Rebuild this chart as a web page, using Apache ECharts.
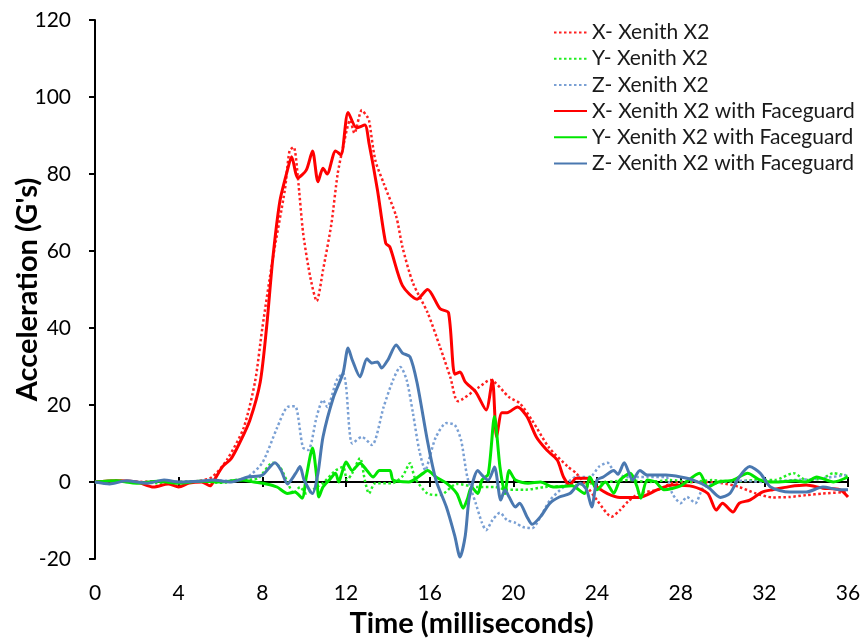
<!DOCTYPE html>
<html>
<head>
<meta charset="utf-8">
<script src="https://cdn.jsdelivr.net/npm/echarts@6/dist/echarts.min.js"></script>
<style>
html,body{margin:0;padding:0;background:#fff;}
#chart{width:862px;height:641px;}
</style>
</head>
<body>
<div id="chart"></div>
<script>
// Tick values
const xTicks = [0,4,8,12,16,20,24,28,32,36];
const yTicks = [-20,0,20,40,60,80,100,120];

const seriesNames = [
  "X- Xenith X2",
  "Y- Xenith X2",
  "Z- Xenith X2",
  "X- Xenith X2 with Faceguard",
  "Y- Xenith X2 with Faceguard",
  "Z- Xenith X2 with Faceguard"
];

// [time ms, acceleration G]
const xBase = [[0,0],[1,0.2],[2,0],[3,0.2],[4,0],[5,0.3],[5.6,1.3],[6.3,5.7],[7.1,14],[7.65,26],[8.0,40],[8.5,58],[9.08,76],[9.3,86],[9.5,87],[9.7,79],[9.95,64.7],[10.3,53],[10.6,47],[10.9,55],[11.3,67],[11.6,80],[11.86,87],[12.2,94],[12.4,90.6],[12.76,96.6],[13.0,95],[13.1,94],[13.4,83.6],[13.8,77.6],[14.4,69],[14.7,61],[15.2,51.7],[15.9,44],[16.5,35],[17.0,27],[17.35,21],[18.3,24.4],[18.9,26.5],[19.8,22],[20.3,20.5],[20.9,16],[21.7,9],[22.6,4],[23.0,2.3],[23.5,-1],[24,-4.7],[24.7,-9],[25.1,-7.3],[25.5,-5],[26,-3],[26.9,-2],[27.6,-0.3],[28.4,0],[29.3,0],[30,-0.3],[30.8,-1.3],[31.6,-3],[32.4,-4],[33.2,-3.9],[34,-3.4],[34.8,-3],[35.9,-2.6]];

const yBase = [[0,0],[1,0.3],[2,0],[3,-0.3],[4,0],[5,0.2],[6,-0.2],[7,0.5],[7.8,1],[8.5,5],[8.84,3.9],[9.2,0],[9.5,-3],[9.8,-1.3],[10.1,-3],[10.6,-1.3],[10.9,-0.3],[11.5,3],[11.86,3.9],[12.05,0.5],[12.3,2.3],[12.67,6.2],[12.9,0.5],[13.1,-3],[13.4,-0.3],[14.2,-0.3],[14.7,1.5],[15.06,4.9],[15.3,1],[15.9,-3],[16.5,-3.4],[17.3,-0.5],[18.3,-1.3],[19.1,-1.3],[19.7,-2],[20.6,-2],[21.5,-1.3],[22.5,-1],[23.5,-0.5],[24.5,0],[25.5,0.5],[26.5,0],[27.5,0.5],[28.5,0],[29.5,0.5],[30.5,0],[31.5,0.5],[32.5,0.5],[33.4,2.3],[34,0.5],[34.8,1],[35.3,2.3],[36,1.5]];

const zBase = [[0,0],[1,0.2],[2,-0.2],[3,0.2],[4,0],[5,0.2],[6,0.3],[6.7,0.5],[7.3,1.3],[8.0,5],[8.7,14],[9.2,19.5],[9.56,19.7],[9.94,9],[10.2,8.3],[10.6,17],[10.9,21.3],[11.1,19.5],[11.56,26.5],[11.86,28.3],[12.0,25],[12.3,10],[12.76,11.7],[13.24,9.6],[13.8,19.5],[14.25,26.5],[14.6,29.9],[14.9,26.5],[15.2,17.9],[15.5,8.3],[15.8,3],[16.0,6.5],[16.3,11.7],[16.8,15.3],[17.2,14.8],[17.5,10.9],[17.8,1.3],[18.2,-5.5],[18.5,-10.6],[18.7,-12.5],[19.0,-9.9],[19.36,-8],[19.7,-9.9],[20.1,-10.6],[20.46,-11.7],[20.9,-12],[21.3,-9],[21.75,-4.7],[22.4,-1.3],[23,1.3],[23.66,1.3],[24.1,4],[24.5,5],[24.8,3],[25.4,1.3],[26.4,1.3],[27.3,1.3],[27.6,-3],[28,-5.5],[28.3,-3.9],[28.7,-5.5],[29.1,-1.3],[30,0],[31,0.3],[32,0],[33.4,0.5],[34.5,0.8],[35.9,1.8]];

const xFace = [[0,0],[1,0.3],[2,0],[2.8,-1.3],[3.5,-0.5],[4,-1.3],[4.5,-0.3],[5.1,0],[5.5,-1],[5.7,0.5],[6.1,4],[6.5,6],[6.9,10],[7.4,16],[7.9,26],[8.2,40],[8.5,58],[8.84,73],[9.2,81],[9.4,84.5],[9.7,79],[10.1,81],[10.4,86],[10.66,78],[10.9,81.5],[11.1,80],[11.5,86],[11.76,85],[12.1,96],[12.5,92],[12.9,92.7],[13.1,88],[13.5,76],[13.9,62],[14.1,61],[14.7,51],[15.4,47.5],[15.9,50],[16.5,45],[16.9,44],[17.2,28],[17.45,28.6],[17.7,26],[18.2,23.4],[18.7,18.7],[19.0,26.5],[19.2,11.7],[19.45,18],[19.7,18],[20.2,19.5],[20.65,17],[21.1,11.7],[21.6,8.3],[22.1,5.7],[22.4,1.3],[22.7,-0.8],[23.0,1],[23.5,1],[24,-1.3],[24.5,-3],[25.1,-4],[26,-4],[26.9,-2],[27.6,-0.8],[28.6,-1.2],[29.3,-3],[29.7,-7.3],[30.0,-5.5],[30.5,-7.8],[30.8,-5.5],[31.3,-4.7],[31.9,-2.6],[32.4,-2],[33.2,-1.2],[34,-0.8],[34.8,-1.6],[35.6,-2],[36,-3.9]];

const yFace = [[0,0],[1,0.3],[2,-0.3],[3,0.2],[4,-0.3],[5,0.2],[6,0],[7,0.5],[7.6,0],[8.2,-0.5],[8.7,-1.3],[9.2,-3],[9.56,-2.6],[9.9,-4.2],[10.1,1.3],[10.4,8.8],[10.6,1.3],[10.7,-3.9],[10.9,-1.3],[11.2,0.5],[11.5,2.3],[11.65,0],[11.8,2.3],[12.0,5.2],[12.3,3],[12.67,4.9],[13.0,3],[13.3,1.3],[13.6,3],[14.1,3],[14.25,0.5],[15,0],[15.7,2.3],[15.9,3],[16.3,1.3],[16.8,-0.3],[17.3,-3],[17.6,-6.8],[17.8,-4.5],[18.0,-1.3],[18.3,-3],[18.5,0.5],[18.8,2],[19.1,17],[19.36,3.9],[19.6,-3],[19.8,3],[20.1,0.5],[20.7,-0.3],[21.3,0],[21.9,-1.3],[22.8,-1],[23.4,-3],[23.66,1.3],[24,-2],[24.4,0],[24.8,-2.9],[25.1,0.5],[25.6,2.3],[25.9,-1],[26.1,-4.2],[26.4,0.5],[26.8,0],[27.2,-2],[28,-1],[28.9,2.3],[29.3,-1.3],[29.8,0],[30.5,0.5],[31.2,2.3],[31.8,0.5],[32.5,0],[33.5,0.3],[34,0],[34.5,1.3],[35.3,0],[36,1.3]];

const zFace = [[0,0],[0.7,-0.5],[1.5,0.3],[2.5,-0.3],[3.3,0.5],[4,0],[5,0.2],[5.6,0.5],[6.5,0],[7.3,1.3],[8.0,1.8],[8.6,5],[8.9,3],[9.2,-0.5],[9.6,2.3],[9.8,4],[10.0,0.5],[10.4,-3],[10.66,2.3],[10.9,11.7],[11.4,22],[11.86,28.3],[12.1,34.8],[12.3,31.7],[12.67,27.3],[13.0,32],[13.24,30.9],[13.5,31.2],[13.7,29.6],[14.0,31.7],[14.4,35.6],[14.7,33.5],[15.06,32.5],[15.4,25.7],[15.9,10.5],[16.3,0.5],[16.8,-6.5],[17.2,-14],[17.45,-19.5],[17.7,-14],[17.9,-3.9],[18.3,3],[18.5,1.8],[18.8,0.5],[19.1,3.9],[19.4,-4.7],[19.6,-2],[19.8,-3.9],[20.1,-6.5],[20.3,-5.5],[20.65,-9],[20.9,-11],[21.3,-9],[21.75,-5.5],[22.2,-3.9],[22.7,-3],[23.2,-0.3],[23.5,-2],[23.75,-6.5],[24,0.5],[24.3,1.3],[24.8,3],[25.0,2],[25.3,5],[25.7,0.5],[26.05,3],[26.4,1.8],[27.3,1.8],[28,1.3],[28.6,0.5],[29.3,-1.3],[29.9,-4],[30.35,-3],[30.8,1.3],[31.3,4],[31.8,2.3],[32.3,-1.3],[33.2,-2.6],[34,-2.6],[34.8,-1.3],[35.6,-2],[36,-2]];

const FONT = 'Lato, "Open Sans", sans-serif';
const chart = echarts.init(document.getElementById('chart'), null, {renderer:'canvas'});

function mkSeries(name, data, color, dotted) {
  return {
    name: name, type: 'line', data: data, symbol: 'none', smooth: 0.25,
    xAxisIndex: 0, yAxisIndex: 0,
    lineStyle: dotted
      ? {color: color, width: 2.5, type: [2.5, 2.5]}
      : {color: color, width: 3},
    itemStyle: {color: color},
    emphasis: {disabled: true},
    z: dotted ? 2 : 3
  };
}

const xAxisBase = {type:'value', min: xTicks[0], max: xTicks[xTicks.length-1], interval: 4, splitLine:{show:false}};

const option = {
  animation: false,
  backgroundColor: '#fff',
  textStyle: {fontFamily: FONT},
  grid: {left: 95, right: 14, top: 20, bottom: 82, containLabel: false, outerBoundsMode: 'none'},
  legend: {
    orient: 'vertical', left: 548, top: 17,
    itemWidth: 33, itemHeight: 14, itemGap: 5.2,
    itemStyle: {opacity: 0},
    textStyle: {fontFamily: FONT, fontSize: 21, color: '#1a1a1a'},
    data: seriesNames
  },
  xAxis: [
    Object.assign({}, xAxisBase, {
      position: 'bottom',
      axisLine: {show: false, onZero: false},
      axisTick: {show: false},
      axisLabel: {fontFamily: FONT, fontSize: 21, color: '#000', margin: 24},
      name: 'Time (milliseconds)', nameLocation: 'middle', nameGap: 49,
      nameTextStyle: {fontFamily: FONT, fontSize: 29, fontWeight: 'bold', color: '#000'}
    }),
    Object.assign({}, xAxisBase, {
      position: 'bottom',
      axisLine: {show: true, onZero: true, onZeroAxisIndex: 0, lineStyle: {color: '#000', width: 2}},
      axisTick: {show: true, inside: false, length: 5, lineStyle: {color: '#000', width: 2}},
      axisLabel: {show: false}
    }),
    Object.assign({}, xAxisBase, {
      position: 'bottom',
      axisLine: {show: false, onZero: true, onZeroAxisIndex: 0},
      axisTick: {show: true, inside: true, length: 5, lineStyle: {color: '#000', width: 2}},
      axisLabel: {show: false}
    })
  ],
  yAxis: {
    type: 'value', min: yTicks[0], max: yTicks[yTicks.length-1], interval: 20,
    axisLine: {show: true, onZero: false, lineStyle: {color: '#000', width: 2}},
    axisTick: {show: true, inside: false, length: 6, lineStyle: {color: '#000', width: 2}},
    axisLabel: {fontFamily: FONT, fontSize: 21, color: '#000', margin: 24},
    splitLine: {show: false},
    name: "Acceleration (G's)", nameLocation: 'middle', nameGap: 53, nameMoveOverlap: false,
    nameTextStyle: {fontFamily: FONT, fontSize: 29, fontWeight: 'bold', color: '#000'}
  },
  series: [
    mkSeries(seriesNames[0], xBase, '#FF2020', true),
    mkSeries(seriesNames[1], yBase, '#22EE22', true),
    mkSeries(seriesNames[2], zBase, '#7AA0D4', true),
    mkSeries(seriesNames[3], xFace, '#FF0000', false),
    mkSeries(seriesNames[4], yFace, '#00E600', false),
    mkSeries(seriesNames[5], zFace, '#4A78B0', false)
  ]
};
chart.setOption(option);
</script>
</body>
</html>
